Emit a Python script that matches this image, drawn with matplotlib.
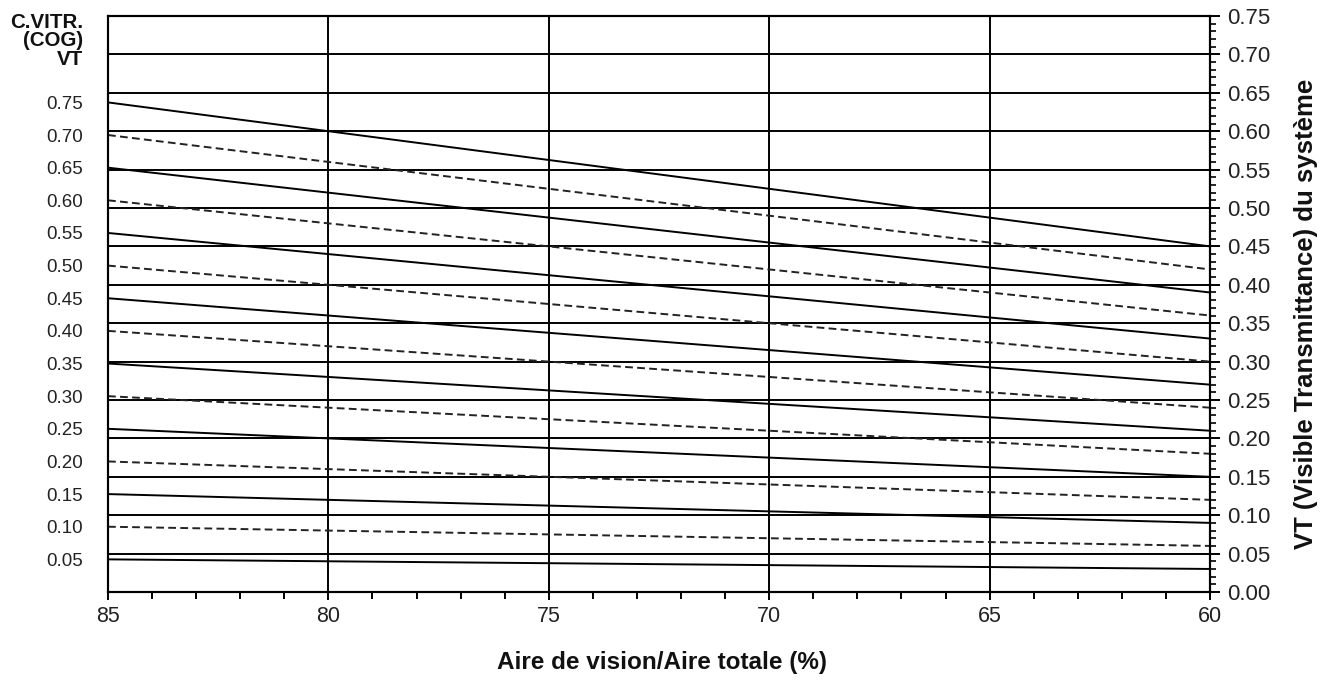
import matplotlib
matplotlib.use("Agg")
import matplotlib.pyplot as plt
from matplotlib.ticker import MultipleLocator

plt.rcParams['font.family'] = ['Liberation Sans', 'DejaVu Sans']

# Data
area_pct = [85, 60]
cog_vt_labels = ["0.75", "0.70", "0.65", "0.60", "0.55", "0.50", "0.45", "0.40",
                 "0.35", "0.30", "0.25", "0.20", "0.15", "0.10", "0.05"]
system_vt_at_85 = [0.6375, 0.595, 0.5525, 0.51, 0.4675, 0.425, 0.3825, 0.34,
                   0.2975, 0.255, 0.2125, 0.17, 0.1275, 0.085, 0.0425]
system_vt_at_60 = [0.45, 0.42, 0.39, 0.36, 0.33, 0.30, 0.27, 0.24,
                   0.21, 0.18, 0.15, 0.12, 0.09, 0.06, 0.03]
line_styles = ["solid", "dashed"] * 7 + ["solid"]
right_ticks = [0.00, 0.05, 0.10, 0.15, 0.20, 0.25, 0.30, 0.35,
               0.40, 0.45, 0.50, 0.55, 0.60, 0.65, 0.70, 0.75]
x_ticks = [85, 80, 75, 70, 65, 60]

fig = plt.figure(figsize=(13.36, 6.83), dpi=100)
ax = fig.add_axes([108/1336, 1-592/683, (1210-108)/1336, (592-16)/683])

lw = 1.4
for s85, s60, ls in zip(system_vt_at_85, system_vt_at_60, line_styles):
    if ls == "solid":
        ax.plot(area_pct, [s85, s60], color='black', lw=lw, solid_capstyle='butt', zorder=3)
    else:
        ax.plot(area_pct, [s85, s60], color='#222222', lw=lw, dashes=(4, 2.2), zorder=3)

ax.set_xlim(85, 60)
ax.set_ylim(0, 0.75)

# grid
for t in right_ticks[1:-1]:
    ax.axhline(t, color='black', lw=1.4, zorder=2)
for xv in x_ticks[1:-1]:
    ax.axvline(xv, color='black', lw=1.4, zorder=2)

for sp in ax.spines.values():
    sp.set_linewidth(1.5)

ax.set_xticks(x_ticks)
ax.set_xticklabels([str(v) for v in x_ticks], fontsize=15.5, color='#222222')
ax.xaxis.set_minor_locator(MultipleLocator(1))
ax.tick_params(axis='x', which='major', direction='out', length=6, width=1.4, pad=4)
ax.tick_params(axis='x', which='minor', direction='out', length=5, width=1.4)

# left labels (COG VT values at 85%)
ax.set_yticks(system_vt_at_85)
ax.set_yticklabels(cog_vt_labels, fontsize=13.5, color='#222222')
ax.tick_params(axis='y', which='both', length=0, pad=18, left=True, right=False)

# right axis (system VT)
axr = ax.twinx()
axr.set_ylim(ax.get_ylim())
axr.set_yticks(right_ticks)
axr.set_yticklabels([f"{v:.2f}" for v in right_ticks], fontsize=16, color='#222222')
axr.yaxis.set_minor_locator(MultipleLocator(0.01))
axr.tick_params(axis='y', which='major', direction='out', length=7, width=1.4, pad=5,
                left=False, right=True)
axr.tick_params(axis='y', which='minor', direction='out', length=4.5, width=1.2,
                left=False, right=True)
for sp in axr.spines.values():
    sp.set_linewidth(1.5)

fig.text(83/1336, 1-41/683, "C.VITR.\n(COG)\nVT", ha='right', va='center',
         fontsize=14.8, fontweight='bold', linespacing=0.95, color='#111111')

fig.text(662/1336, 1-663/683, "Aire de vision/Aire totale (%)", ha='center', va='center',
         fontsize=17.5, fontweight='bold', color='#111111')
fig.text(1306/1336, 1-314/683, "VT (Visible Transmittance) du système", ha='center',
         va='center', rotation=90, fontsize=18.5, fontweight='bold', color='#111111')

fig.savefig("out.png", dpi=100)
